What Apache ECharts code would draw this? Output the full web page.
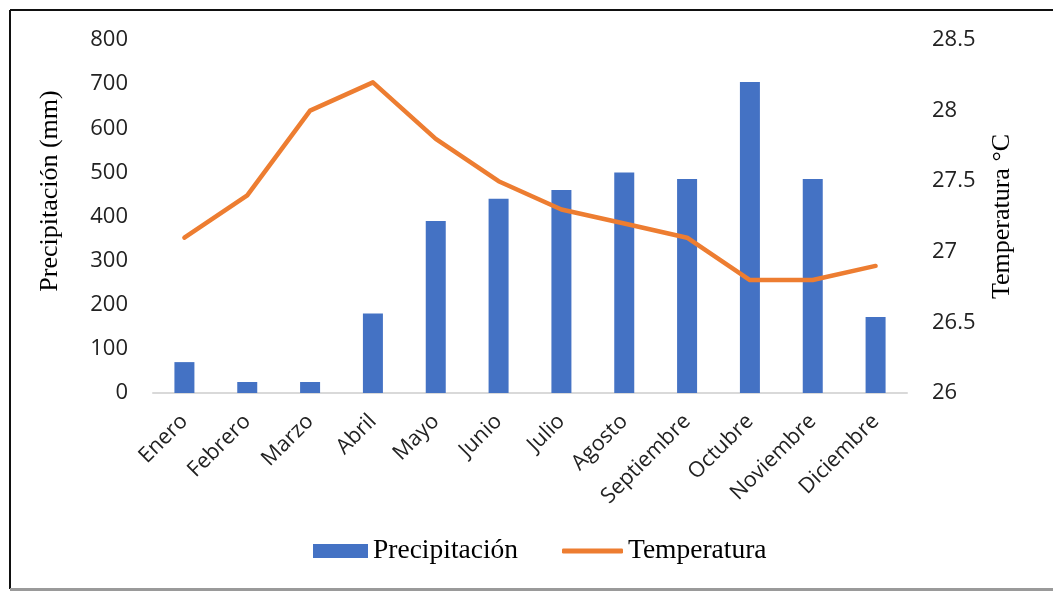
<!DOCTYPE html>
<html>
<head>
<meta charset="utf-8">
<style>
  html, body { margin: 0; padding: 0; background: #fff; }
  #chart { width: 1053px; height: 591px; }
</style>
<script src="https://cdn.jsdelivr.net/npm/echarts@6/dist/echarts.min.js"></script>
</head>
<body>
<div id="chart"></div>
<script>
// Monthly climate: rainfall (bars, left axis) and mean temperature (line, right axis)
const meses = ['Enero', 'Febrero', 'Marzo', 'Abril', 'Mayo', 'Junio', 'Julio',
  'Agosto', 'Septiembre', 'Octubre', 'Noviembre', 'Diciembre'];
const precipitacion = [70, 25, 25, 180, 390, 440, 460, 500, 485, 705, 485, 172];
const temperatura = [27.1, 27.4, 28.0, 28.2, 27.8, 27.5, 27.3, 27.2, 27.1, 26.8, 26.8, 26.9];

const sansFont = '"Open Sans", "Noto Sans", sans-serif';
const serifFont = '"Liberation Serif", "DejaVu Serif", serif';
const legendText = { fontFamily: serifFont, fontSize: 27.5, color: '#000' };

const chart = echarts.init(document.getElementById('chart'), null, { renderer: 'canvas' });

chart.setOption({
  backgroundColor: '#ffffff',
  animation: false,
  grid: { left: 153, right: 146, top: 40, bottom: 198 },
  legend: [
    {
      left: 308, top: 532,
      itemWidth: 55, itemHeight: 14,
      textStyle: legendText,
      data: [{ name: 'Precipitación', icon: 'rect' }]
    },
    {
      left: 557, top: 532,
      itemWidth: 61, itemHeight: 5,
      textStyle: legendText,
      data: [{ name: 'Temperatura', icon: 'roundRect' }]
    }
  ],
  xAxis: {
    type: 'category',
    data: meses,
    axisLine: { lineStyle: { color: '#d9d9d9', width: 2 } },
    axisTick: { show: false },
    axisLabel: {
      rotate: 45,
      margin: 25,
      interval: 0,
      fontFamily: sansFont,
      fontSize: 21.5,
      color: '#222'
    }
  },
  yAxis: [
    {
      type: 'value',
      min: 0, max: 800, interval: 100,
      splitLine: { show: false },
      axisLine: { show: false },
      axisTick: { show: false },
      axisLabel: { fontFamily: sansFont, fontSize: 22, color: '#222', margin: 25 }
    },
    {
      type: 'value',
      min: 26, max: 28.5, interval: 0.5,
      name: 'Temperatura °C',
      nameLocation: 'middle',
      nameGap: 82,
      nameRotate: 90,
      nameTextStyle: { fontFamily: serifFont, fontSize: 26, color: '#000' },
      splitLine: { show: false },
      axisLine: { show: false },
      axisTick: { show: false },
      axisLabel: {
        fontFamily: sansFont, fontSize: 22, color: '#222', margin: 25,
        formatter: v => String(v)
      }
    }
  ],
  series: [
    {
      name: 'Precipitación',
      type: 'bar',
      yAxisIndex: 0,
      data: precipitacion,
      barWidth: 20,
      itemStyle: { color: '#4472c4' }
    },
    {
      name: 'Temperatura',
      type: 'line',
      yAxisIndex: 1,
      data: temperatura,
      symbol: 'none',
      lineStyle: { color: '#ed7d31', width: 4.5, cap: 'round', join: 'round' },
      itemStyle: { color: '#ed7d31' }
    }
  ],
  graphic: [
    {
      type: 'text',
      x: 50, y: 191,
      rotation: Math.PI / 2,
      style: {
        text: 'Precipitación (mm)',
        font: '26px ' + serifFont,
        fill: '#000',
        textAlign: 'center',
        textVerticalAlign: 'middle'
      }
    },
    { type: 'line', shape: { x1: 10, y1: 10, x2: 1053, y2: 10 }, style: { stroke: '#111', lineWidth: 2 } },
    { type: 'line', shape: { x1: 10, y1: 10, x2: 10, y2: 589 }, style: { stroke: '#111', lineWidth: 2 } },
    { type: 'line', shape: { x1: 10, y1: 589.5, x2: 1053, y2: 589.5 }, style: { stroke: '#9a9a9a', lineWidth: 3 } }
  ]
});
</script>
</body>
</html>
